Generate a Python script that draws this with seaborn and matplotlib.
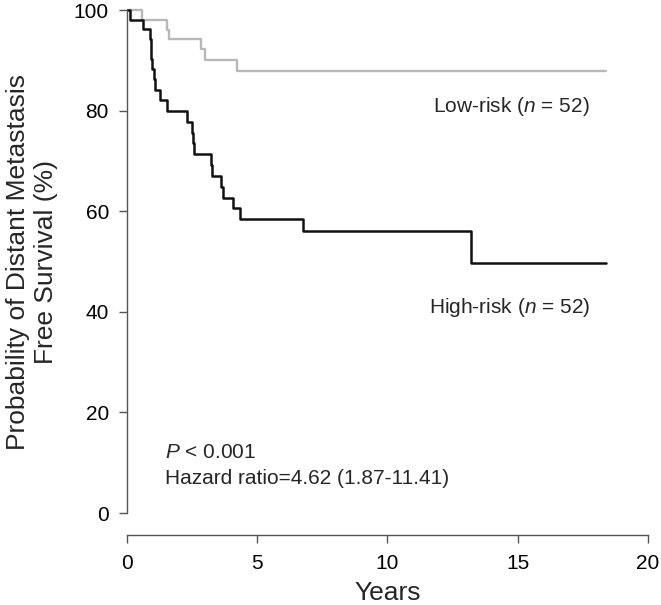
import numpy as np
import pandas as pd
import matplotlib
matplotlib.use("Agg")
import matplotlib.pyplot as plt
import seaborn as sns

# survival steps (years, % surviving)
low_years = [0, 0.56, 1.55, 1.62, 2.83, 3.00, 4.21, 18.37]
low_surv = [100, 98.1, 96.1, 94.2, 92.2, 90.0, 87.8, 87.8]

high_years = [0, 0.12, 0.60, 0.88, 0.91, 0.94, 0.97, 1.02, 1.06, 1.27, 1.52,
              2.29, 2.48, 2.52, 2.56, 3.22, 3.28, 3.61, 3.70, 4.06, 4.34,
              6.77, 13.2, 18.37]
high_surv = [100, 98.1, 96.2, 94.2, 92.2, 90.2, 88.2, 86.2, 84.1, 82.1, 80.0,
             77.8, 75.6, 73.5, 71.4, 69.2, 67.1, 64.9, 62.7, 60.6, 58.4,
             56.1, 49.8, 49.8]

x_ticks = [0, 5, 10, 15, 20]
y_ticks = [0, 20, 40, 60, 80, 100]

low_df = pd.DataFrame({"years": low_years, "surv": low_surv})
high_df = pd.DataFrame({"years": high_years, "surv": high_surv})

sns.set_style("ticks")
plt.rcParams['font.family'] = ['Liberation Sans', 'DejaVu Sans']
plt.rcParams['mathtext.fontset'] = 'custom'
plt.rcParams['mathtext.rm'] = 'Liberation Sans'
plt.rcParams['mathtext.it'] = 'Liberation Sans:italic'

fig = plt.figure(figsize=(6.61, 6.05), dpi=100)
ax = fig.add_axes([0.1921, 0.1165, 0.7882, 0.8835])

sns.lineplot(data=low_df, x="years", y="surv", ax=ax, color="#b8b8b8",
             linewidth=1.7, drawstyle="steps-post", estimator=None)
sns.lineplot(data=high_df, x="years", y="surv", ax=ax, color="#111111",
             linewidth=1.8, drawstyle="steps-post", estimator=None)

ax.set_xlim(0, 20)
ax.set_ylim(-4.27, 102.0)
ax.set_xticks(x_ticks)
ax.set_yticks(y_ticks)

# R-like detached axes
for side in ["top", "right"]:
    ax.spines[side].set_visible(False)
ax.spines["left"].set_bounds(0, 100)
ax.spines["bottom"].set_bounds(0, 20)
for side in ["left", "bottom"]:
    ax.spines[side].set_color("#555555")
    ax.spines[side].set_linewidth(1)
ax.tick_params(axis="both", colors="#555555", length=6, width=1,
               labelsize=15, labelcolor="black")
ax.tick_params(axis="y", pad=7)
ax.tick_params(axis="x", pad=8)

ax.set_xlabel("Years", fontsize=19)
ax.set_ylabel("Probability of Distant Metastasis\nFree Survival (%)", fontsize=19)
ax.xaxis.set_label_coords(0.5, -0.087)
ax.yaxis.set_label_coords(-0.132, 0.51)

ax.text(17.77, 80.9, "Low-risk ($n$ = 52)", ha="right", va="center", fontsize=15)
ax.text(17.77, 40.8, "High-risk ($n$ = 52)", ha="right", va="center", fontsize=15)
ax.text(1.46, 12.0, "$P$ < 0.001", ha="left", va="center", fontsize=15)
ax.text(1.46, 6.8, "Hazard ratio=4.62 (1.87-11.41)", ha="left", va="center", fontsize=15)

fig.savefig("out.png", dpi=100)
